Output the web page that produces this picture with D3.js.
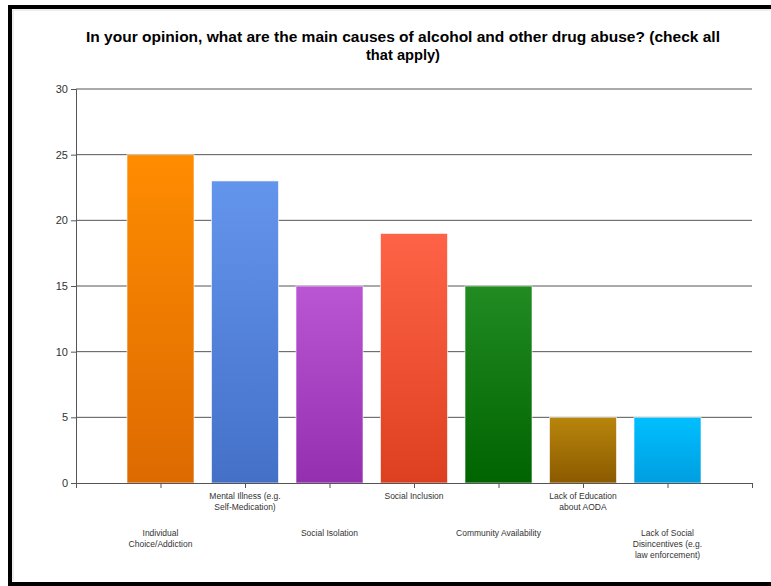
<html>
    <head>
        <script src="https://d3js.org/d3.v7.min.js"></script>
        <style>
            body { margin: 0; background: #fff; }
            text { font-family: "Liberation Sans", Arial, sans-serif; }
        </style>
    </head>
    <body>
        <svg id="svg" width="771" height="586"></svg>
        <script>
            // data
            var categories = [
                "Individual Choice/Addiction",
                "Mental Illness (e.g. Self-Medication)",
                "Social Isolation",
                "Social Inclusion",
                "Community Availability",
                "Lack of Education about AODA",
                "Lack of Social Disincentives (e.g. law enforcement)"
            ];
            var labelLines = [
                ["Individual", "Choice/Addiction"],
                ["Mental Illness (e.g.", "Self-Medication)"],
                ["Social Isolation"],
                ["Social Inclusion"],
                ["Community Availability"],
                ["Lack of Education", "about AODA"],
                ["Lack of Social", "Disincentives (e.g.", "law enforcement)"]
            ];
            var values = [25, 23, 15, 19, 15, 5, 5];
            var yTicks = [0, 5, 10, 15, 20, 25, 30];
            var topColors = ["#ff8c00", "#6495ed", "#ba55d3", "#ff6347", "#228b22", "#b8860b", "#00bfff"];
            var bottomColors = ["#dd6a00", "#4470c8", "#9430b0", "#dd4020", "#006400", "#8b5a00", "#009ee0"];

            var svg = d3.select("svg");
            var plotLeft = 76, plotRight = 752, plotTop = 89, plotBottom = 483;

            // frame
            svg.append("rect").attr("x", 10).attr("y", 7).attr("width", 780).attr("height", 577)
                .attr("fill", "none").attr("stroke", "#000").attr("stroke-width", 4);
            svg.append("path").attr("d", "M13 581V10H771").attr("fill", "none")
                .attr("stroke", "#ddd").attr("stroke-width", 1);

            // title
            var title = svg.append("text").attr("text-anchor", "middle")
                .attr("font-size", 15).attr("font-weight", "bold").attr("fill", "#000");
            title.append("tspan").attr("x", 403).attr("y", 42)
                .attr("textLength", 634).attr("lengthAdjust", "spacingAndGlyphs")
                .text("In your opinion, what are the main causes of alcohol and other drug abuse? (check all");
            title.append("tspan").attr("x", 403).attr("y", 60)
                .attr("textLength", 74).attr("lengthAdjust", "spacingAndGlyphs")
                .text("that apply)");

            var y = d3.scaleLinear().domain([0, 30]).range([plotBottom, plotTop]);
            var x = d3.scaleLinear().domain([0, categories.length + 1]).range([plotLeft, plotRight]);

            var defs = svg.append("defs");
            values.forEach(function(v, i) {
                var g = defs.append("linearGradient").attr("id", "g" + i)
                    .attr("x1", 0).attr("y1", 0).attr("x2", 0).attr("y2", 1);
                g.append("stop").attr("offset", "0%").attr("stop-color", topColors[i]);
                g.append("stop").attr("offset", "100%").attr("stop-color", bottomColors[i]);
            });

            // grid lines
            svg.append("g").selectAll("line").data(yTicks.slice(1)).join("line")
                .attr("x1", plotLeft).attr("x2", plotRight)
                .attr("y1", function(d) { return y(d); }).attr("y2", function(d) { return y(d); })
                .attr("stroke", "#555").attr("stroke-width", 1);

            // y axis
            var yAxis = svg.append("g").attr("transform", "translate(" + plotLeft + ",0)")
                .call(d3.axisLeft(y).tickValues(yTicks).tickSize(5).tickPadding(3));
            yAxis.select(".domain").attr("stroke", "#555");
            yAxis.selectAll(".tick line").attr("stroke", "#555");
            yAxis.selectAll("text").attr("font-size", 11).attr("fill", "#333")
                .attr("font-family", "Liberation Sans, Arial, sans-serif");

            // bars
            var barW = 67;
            svg.append("g").selectAll("rect").data(values).join("rect")
                .attr("x", function(d, i) { return x(i + 1) - barW / 2; })
                .attr("y", function(d) { return y(d); })
                .attr("width", barW)
                .attr("height", function(d) { return y(0) - y(d); })
                .attr("fill", function(d, i) { return "url(#g" + i + ")"; })
                .attr("stroke", "#fff").attr("stroke-opacity", 0.6).attr("stroke-width", 1);

            // x axis
            var xAxis = svg.append("g").attr("transform", "translate(0," + plotBottom + ")")
                .call(d3.axisBottom(x).tickValues(d3.range(1, categories.length + 2))
                    .tickSize(5).tickFormat(""));
            xAxis.select(".domain").attr("stroke", "#555");
            xAxis.selectAll(".tick line").attr("stroke", "#555");

            // category labels, staggered
            var lab = svg.append("g");
            labelLines.forEach(function(lines, i) {
                var y0 = (i % 2 === 0) ? 536 : 499;
                var t = lab.append("text").attr("text-anchor", "middle")
                    .attr("font-size", 8.5).attr("fill", "#333");
                lines.forEach(function(s, k) {
                    t.append("tspan").attr("x", x(i + 1)).attr("y", y0 + k * 11).text(s);
                });
            });
        </script>
    </body>
</html>
